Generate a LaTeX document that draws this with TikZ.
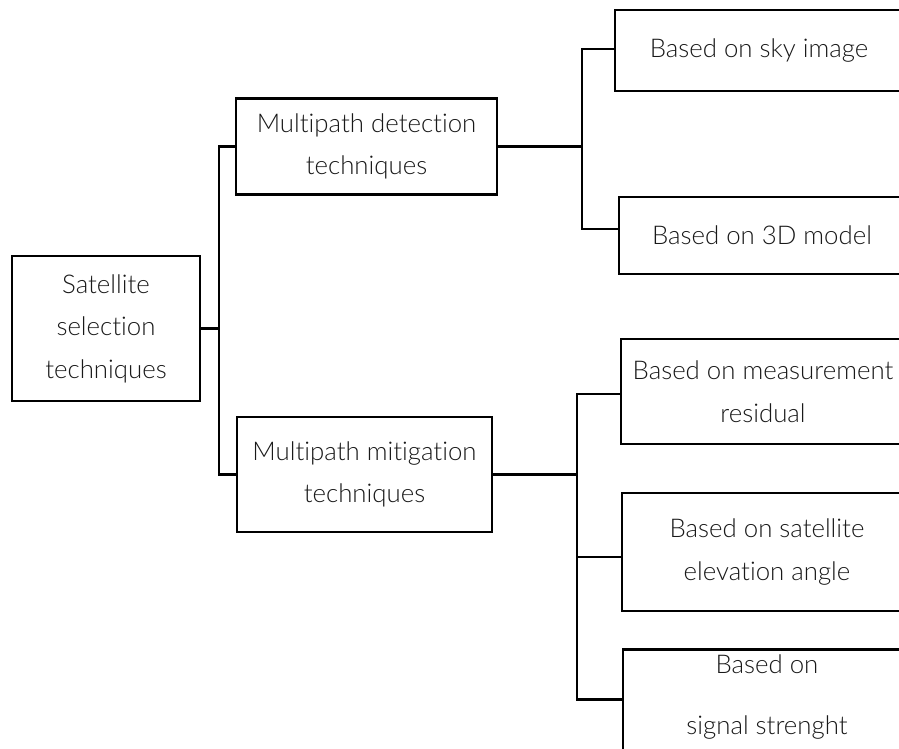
\documentclass[tikz,border=0pt]{standalone}
\usepackage{fontspec}
\setmainfont{Lato}[UprightFont={* Light}, Ligatures={NoCommon}]
\begin{document}
\begin{tikzpicture}[x=1pt,y=-1pt,
  box/.style={draw=black, line width=2.8pt, fill=white, inner sep=0pt,
    align=center, font=\fontsize{25.8}{42.5}\selectfont, text=black!90},
  wire/.style={draw=black, line width=2.8pt, line join=miter}]
  \clip (0,0) rectangle (899,749);
  \fill[white] (0,0) rectangle (899,749);

  % root and second level
  \node[box, minimum width=188pt, minimum height=145pt] (root) at (106,328.5)
    {Satellite\\selection\\techniques};
  \node[box, minimum width=261pt, minimum height=96pt] (det) at (366.5,146.5)
    {Multipath detection\\techniques};
  \node[box, minimum width=255pt, minimum height=115pt] (mit) at (364.5,474.5)
    {Multipath mitigation\\techniques};

  % detection leaves (right side runs past the page edge)
  \node[box, minimum width=288pt, minimum height=81pt] (sky) at (759,50.5)
    {Based on sky image};
  \node[box, minimum width=286pt, minimum height=77pt] (d3) at (762,235.5)
    {Based on 3D model};

  % mitigation leaves
  \node[box, minimum width=284pt, minimum height=105pt] (res) at (763,391.5)
    {Based on measurement\\residual};
  \node[box, minimum width=290pt, minimum height=118pt] (elev) at (767,552)
    {Based on satellite\\elevation angle};
  \node[box, minimum width=288pt, minimum height=110pt, anchor=north] (sig) at (767,648)
    {};
  \node[font=\fontsize{25.8}{42.5}\selectfont, text=black!90, align=center] (sigtxt) at (767,697)
    {Based on\\[18pt]signal strenght};

  % junction points
  \coordinate (rj) at (219,328.5);
  \coordinate (dj) at (582,146.5);
  \coordinate (mj) at (577,474.5);

  % connectors
  \draw[wire] (root.east) -- (rj);
  \draw[wire] (det.west) -| (rj) |- (mit.west);
  \draw[wire] (det.east) -- (dj);
  \draw[wire] ([yshift=1.5pt]sky.west) -| (dj) |- ([yshift=6.5pt]d3.west);
  \draw[wire] (mit.east) -- (mj);
  \draw[wire] ([yshift=-2.5pt]res.west) -| (mj) |- ([yshift=-5pt]elev.west);
  \draw[wire] (mj) |- ([yshift=5pt]sig.west);
\end{tikzpicture}
\end{document}
